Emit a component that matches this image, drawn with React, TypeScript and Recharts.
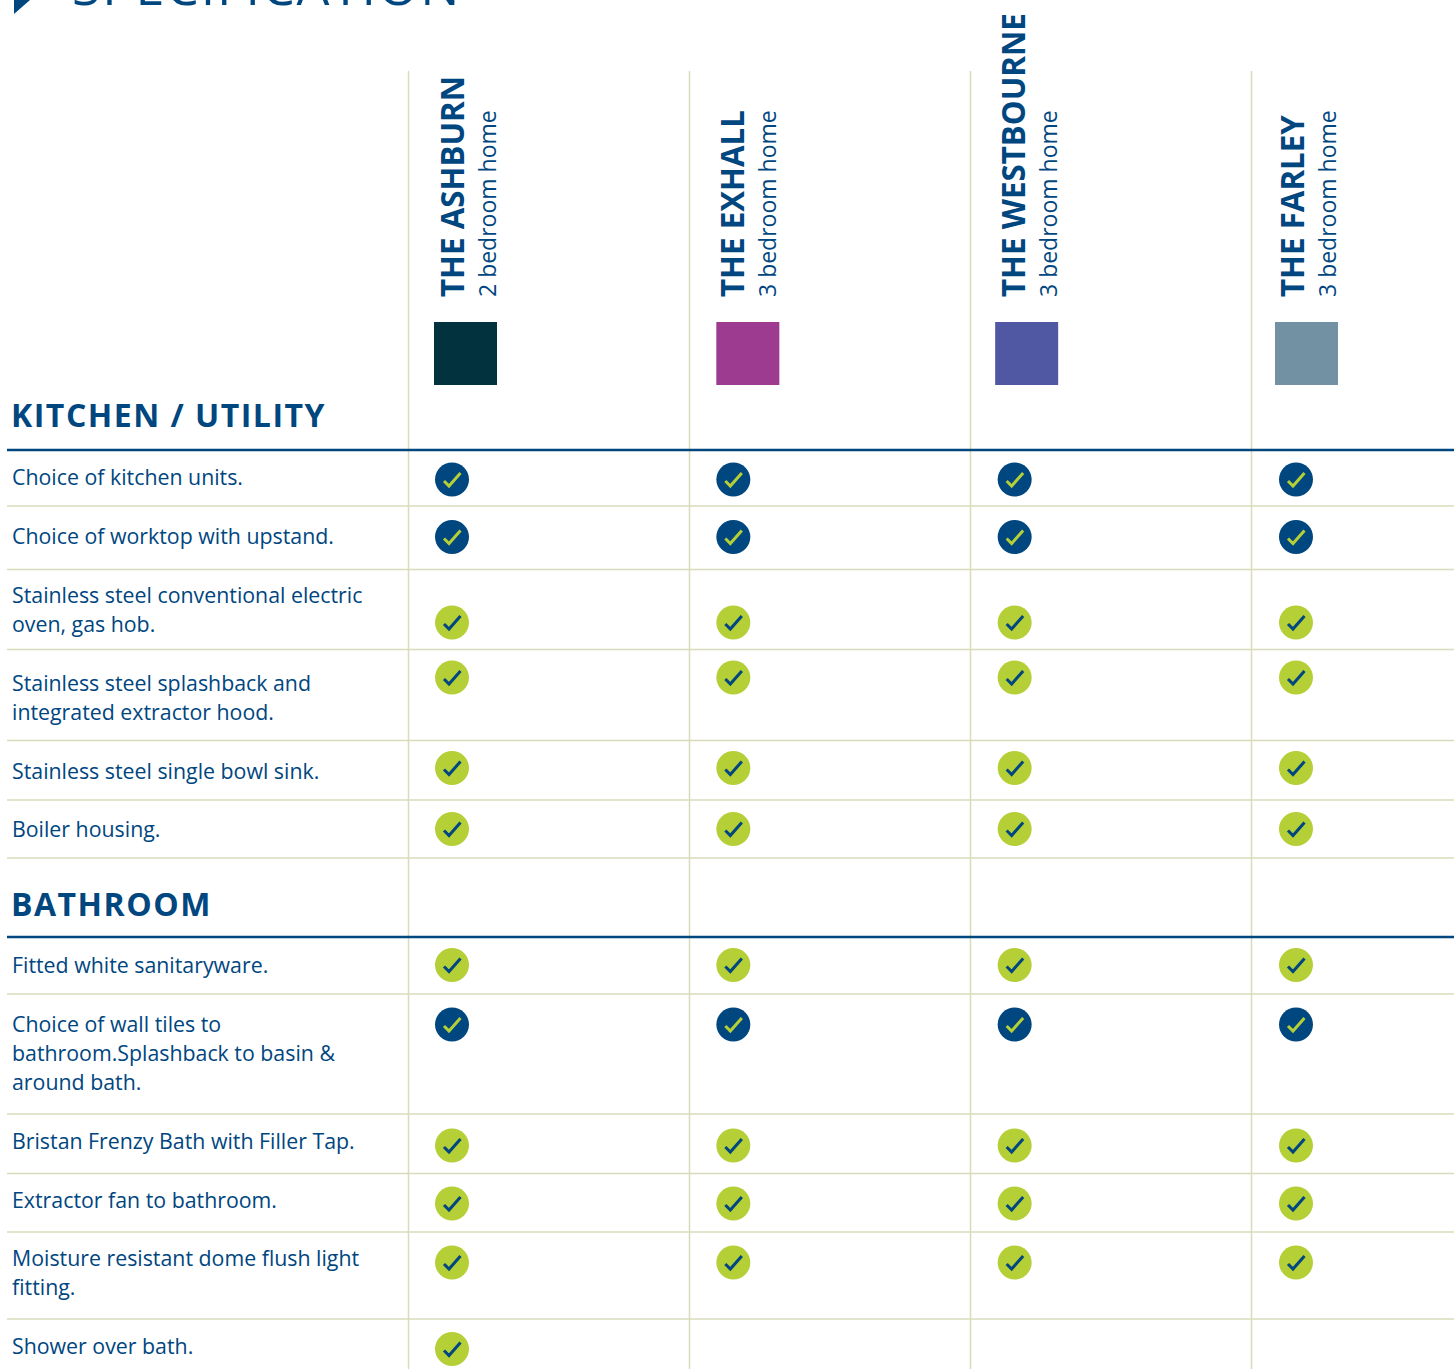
import { ScatterChart, Scatter, XAxis, YAxis, ReferenceLine } from "recharts";

const NAVY = "#00467f";
const LIME = "#b5cf37";
const RULE = "#d9dcbb";
const FONT = "'Open Sans', sans-serif";

const homes = ["THE ASHBURN", "THE EXHALL", "THE WESTBOURNE", "THE FARLEY"];
const bedrooms = ["2 bedroom home", "3 bedroom home", "3 bedroom home", "3 bedroom home"];
const swatches = ["#02323d", "#9c3b8f", "#5057a3", "#7292a3"];

const sections = ["KITCHEN / UTILITY", "BATHROOM"];
const sectionAt = [427, 916];

// one entry per printed line of the feature column
const featureLines = [
  "Choice of kitchen units.",
  "Choice of worktop with upstand.",
  "Stainless steel conventional electric",
  "oven, gas hob.",
  "Stainless steel splashback and",
  "integrated extractor hood.",
  "Stainless steel single bowl sink.",
  "Boiler housing.",
  "Fitted white sanitaryware.",
  "Choice of wall tiles to",
  "bathroom.Splashback to basin &",
  "around bath.",
  "Bristan Frenzy Bath with Filler Tap.",
  "Extractor fan to bathroom.",
  "Moisture resistant dome flush light",
  "fitting.",
  "Shower over bath.",
];
const featureLineAt = [485, 544, 603, 632, 691, 720, 779, 837, 973, 1032, 1061, 1090, 1149, 1208, 1266, 1295, 1354];

// tick rows: where each row's mark sits, its tone and how many homes have it
const rowAt = [479.5, 537, 622.5, 677.5, 768, 829, 965, 1024.5, 1145.5, 1203.5, 1262.5, 1349];
const rowTone = ["navy", "navy", "lime", "lime", "lime", "lime", "lime", "navy", "lime", "lime", "lime", "lime"];
const rowHomes = [4, 4, 4, 4, 4, 4, 4, 4, 4, 4, 4, 1];

const thinRules = [506, 569.5, 649.5, 740.5, 800, 858, 994, 1114, 1173.5, 1232, 1319];
const heavyRules = [450, 937];

const WIDTH = 1454;
const HEIGHT = 1369;
const COL_W = 281.33;
const COL_0 = 452;
const toCol = (px: number) => (px - COL_0) / COL_W;

const points = rowAt.flatMap((y, r) =>
  Array.from({ length: rowHomes[r] }, (_, col) => ({ col, y, tone: rowTone[r] }))
);
const navyPoints = points.filter((p) => p.tone === "navy");
const limePoints = points.filter((p) => p.tone === "lime");

const lineByValue = new Map<number, string>(featureLineAt.map((v, i) => [v, featureLines[i]]));
const sectionByValue = new Map<number, string>(sectionAt.map((v, i) => [v, sections[i]]));

const CheckMark = ({ cx, cy, fill, tick }: any) => (
  <g>
    <circle cx={cx} cy={cy} r={17} fill={fill} />
    <path
      d={`M${cx - 8} ${cy + 1.5}L${cx - 3} ${cy + 6.5}L${cx + 8.5} ${cy - 6.5}`}
      fill="none"
      stroke={tick}
      strokeWidth={3}
    />
  </g>
);

const headerOffsets = [
  { text: 12, swatch: -18 },
  { text: 11, swatch: -17 },
  { text: 10.5, swatch: -19.5 },
  { text: 8, swatch: -21 },
];

const HomeHeader = ({ x, payload }: any) => {
  const i = payload.value;
  const off = headerOffsets[i];
  return (
    <g>
      <text
        transform={`translate(${x + off.text} 297) rotate(-90) scale(0.948 1)`}
        fontFamily={FONT}
        fontWeight={700}
        fontSize={33}
        fill={NAVY}
      >
        {homes[i]}
      </text>
      <text
        transform={`translate(${x + off.text + 32} 297) rotate(-90) scale(0.959 1)`}
        fontFamily={FONT}
        fontSize={24}
        fill={NAVY}
      >
        {bedrooms[i]}
      </text>
      <rect x={x + off.swatch} y={322} width={63} height={63} fill={swatches[i]} />
    </g>
  );
};

const FeatureLabel = ({ payload }: any) => {
  const section = sectionByValue.get(payload.value);
  const y = payload.value;
  if (section) {
    return (
      <text x={11} y={y} fontFamily={FONT} fontWeight={700} fontSize={32} letterSpacing={1.5} fill={NAVY}>
        {section}
      </text>
    );
  }
  return (
    <text transform={`translate(12 ${y}) scale(0.97 1)`} fontFamily={FONT} fontSize={22} fill={NAVY}>
      {lineByValue.get(y)}
    </text>
  );
};

export default function App() {
  const xMax = toCol(WIDTH);
  return (
    <div style={{ position: "absolute", left: 0, top: 0, width: WIDTH, height: HEIGHT, background: "#fff" }}>
      <ScatterChart width={WIDTH} height={HEIGHT} margin={{ top: 0, right: 0, bottom: 0, left: 0 }}>
        <XAxis
          type="number"
          dataKey="col"
          orientation="top"
          height={1}
          domain={[toCol(1), xMax]}
          ticks={[0, 1, 2, 3]}
          interval={0}
          axisLine={false}
          tickLine={false}
          tick={<HomeHeader />}
        />
        <YAxis
          type="number"
          dataKey="y"
          width={1}
          reversed
          domain={[1, HEIGHT]}
          ticks={[...sectionAt, ...featureLineAt]}
          interval={0}
          axisLine={false}
          tickLine={false}
          tick={<FeatureLabel />}
        />
        {[408.5, 689.5, 970.5, 1251.5].map((px) => (
          <ReferenceLine
            key={px}
            segment={[
              { x: toCol(px), y: 71 },
              { x: toCol(px), y: HEIGHT },
            ]}
            stroke={RULE}
            strokeWidth={1.5}
            ifOverflow="visible"
          />
        ))}
        {thinRules.map((y) => (
          <ReferenceLine
            key={y}
            segment={[
              { x: toCol(7), y },
              { x: xMax, y },
            ]}
            stroke={RULE}
            strokeWidth={1.5}
            ifOverflow="visible"
          />
        ))}
        {heavyRules.map((y) => (
          <ReferenceLine
            key={y}
            segment={[
              { x: toCol(7), y },
              { x: xMax, y },
            ]}
            stroke={NAVY}
            strokeWidth={2.5}
            ifOverflow="visible"
          />
        ))}
        <Scatter
          data={navyPoints}
          isAnimationActive={false}
          shape={(p: any) => <CheckMark cx={p.cx} cy={p.cy} fill={NAVY} tick={LIME} />}
        />
        <Scatter
          data={limePoints}
          isAnimationActive={false}
          shape={(p: any) => <CheckMark cx={p.cx} cy={p.cy} fill={LIME} tick={NAVY} />}
        />
        <polygon points="14,14 14,0 30,0" fill={NAVY} />
        <text x={72} y={5} fontFamily={FONT} fontSize={52} letterSpacing={1.8} fill={NAVY}>
          SPECIFICATION
        </text>
      </ScatterChart>
    </div>
  );
}
